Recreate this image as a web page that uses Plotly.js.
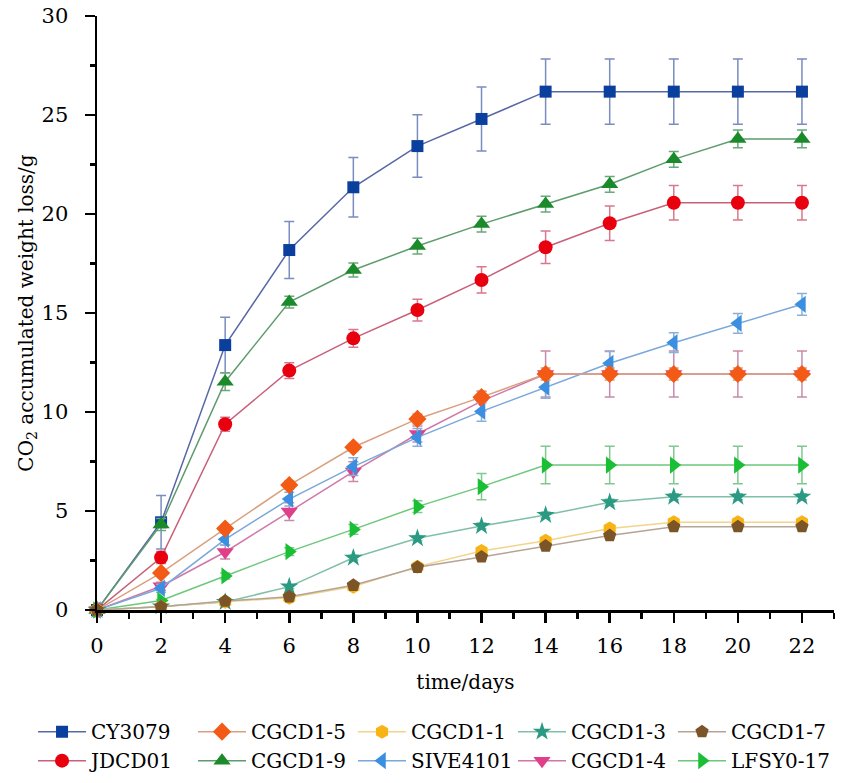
<!DOCTYPE html>
<html>
<head>
<meta charset="utf-8">
<script src="https://cdn.plot.ly/plotly-3.0.1.min.js"></script>
<style>html,body{margin:0;padding:0;background:#fff;}#chart{width:851px;height:783px;}</style>
</head>
<body>
<div id="chart"></div>
<script>
// time points (days)
const days = [0, 2, 4, 6, 8, 10, 12, 14, 16, 18, 20, 22];

// series values (CO2 accumulated weight loss, g)
const CY3079   = [0, 4.43, 13.38, 18.18, 21.35, 23.43, 24.80, 26.18, 26.18, 26.18, 26.18, 26.18];
const CY3079_e = [0, 1.35, 1.40, 1.44, 1.50, 1.58, 1.62, 1.65, 1.65, 1.65, 1.65, 1.65];

const CGCD1_9   = [0, 4.32, 11.53, 15.55, 17.17, 18.38, 19.49, 20.50, 21.50, 22.76, 23.79, 23.79];
const CGCD1_9_e = [0, 0.30, 0.45, 0.30, 0.35, 0.40, 0.40, 0.40, 0.40, 0.40, 0.45, 0.45];

const JDCD01   = [0, 2.65, 9.38, 12.09, 13.72, 15.15, 16.67, 18.32, 19.53, 20.57, 20.57, 20.57];
const JDCD01_e = [0, 0.30, 0.35, 0.40, 0.45, 0.55, 0.66, 0.82, 0.87, 0.87, 0.87, 0.87];

const CGCD1_5   = [0, 1.87, 4.11, 6.31, 8.22, 9.65, 10.75, 11.92, 11.92, 11.92, 11.92, 11.92];
const CGCD1_5_e = [0, 0.15, 0.20, 0.20, 0.20, 0.25, 0.30, 0.30, 0.30, 0.30, 0.30, 0.30];

const CGCD1_4   = [0, 1.20, 2.93, 4.97, 6.99, 8.89, 10.55, 11.92, 11.92, 11.92, 11.92, 11.92];
const CGCD1_4_e = [0, 0.20, 0.35, 0.45, 0.50, 0.40, 0.50, 1.16, 1.16, 1.16, 1.16, 1.16];

const SIVE4101   = [0, 1.10, 3.57, 5.60, 7.24, 8.72, 10.03, 11.25, 12.46, 13.50, 14.48, 15.44];
const SIVE4101_e = [0, 0.20, 0.30, 0.35, 0.45, 0.45, 0.50, 0.55, 0.60, 0.50, 0.50, 0.55];

const LFSY0_17   = [0, 0.48, 1.72, 2.95, 4.07, 5.22, 6.23, 7.32, 7.32, 7.32, 7.32, 7.32];
const LFSY0_17_e = [0, 0.05, 0.15, 0.20, 0.25, 0.30, 0.66, 0.95, 0.95, 0.95, 0.95, 0.95];

const CGCD1_3   = [0, 0.18, 0.40, 1.18, 2.64, 3.62, 4.24, 4.80, 5.44, 5.72, 5.72, 5.72];
const CGCD1_3_e = [0, 0.05, 0.08, 0.10, 0.12, 0.12, 0.15, 0.15, 0.15, 0.15, 0.15, 0.15];

const CGCD1_1   = [0, 0.17, 0.42, 0.62, 1.18, 2.19, 2.98, 3.50, 4.12, 4.43, 4.43, 4.43];
const CGCD1_1_e = [0, 0.05, 0.08, 0.10, 0.10, 0.12, 0.12, 0.12, 0.12, 0.12, 0.12, 0.12];

const CGCD1_7   = [0, 0.17, 0.45, 0.67, 1.25, 2.16, 2.68, 3.23, 3.76, 4.21, 4.21, 4.21];
const CGCD1_7_e = [0, 0.05, 0.08, 0.10, 0.10, 0.12, 0.12, 0.12, 0.12, 0.12, 0.12, 0.12];

function series(name, y, err, symbol, size, mcol, lcol, ecol, rank) {
  return {
    type: 'scatter', mode: 'lines+markers', name: name, x: days, y: y,
    legendrank: rank, cliponaxis: false,
    line: {color: lcol, width: 1.5},
    marker: {symbol: symbol, size: size, color: mcol, line: {width: 0}},
    error_y: {type: 'data', array: err, visible: true, color: ecol, thickness: 1.5, width: 5}
  };
}

const data = [
  series('CY3079',   CY3079,   CY3079_e,   'square',         12, '#0B3F9E', '#5867A6', '#7A8CC0', 1),
  series('CGCD1-9',  CGCD1_9,  CGCD1_9_e,  'triangle-up',    15, '#1A8A2A', '#5E9C6C', '#6AA878', 7),
  series('JDCD01',   JDCD01,   JDCD01_e,   'circle',         14, '#E8000F', '#C8607A', '#D8788E', 6),
  series('CGCD1-4',  CGCD1_4,  CGCD1_4_e,  'triangle-down',  15, '#E0408A', '#D078A8', '#C88AAA', 9),
  series('SIVE4101', SIVE4101, SIVE4101_e, 'triangle-left',  15, '#3A8FE0', '#7AA8DA', '#8AB0D8', 8),
  series('CGCD1-5',  CGCD1_5,  CGCD1_5_e,  'diamond',        14, '#F25A16', '#D9A080', '#D9A080', 2),
  series('LFSY0-17', LFSY0_17, LFSY0_17_e, 'triangle-right', 15, '#1BBF35', '#6CC87A', '#80C890', 10),
  series('CGCD1-3',  CGCD1_3,  CGCD1_3_e,  'star',           14, '#2A9A82', '#80BFA8', '#80BFA8', 4),
  series('CGCD1-1',  CGCD1_1,  CGCD1_1_e,  'hexagon',        14, '#F8B414', '#F2D48A', '#E8C060', 3),
  series('CGCD1-7',  CGCD1_7,  CGCD1_7_e,  'pentagon',       14, '#7B5427', '#B4A496', '#E0B040', 5)
];

const FONT = 'DejaVu Serif';

const layout = {
  width: 851, height: 783,
  margin: {l: 97, r: 17, t: 16, b: 173, autoexpand: false},
  paper_bgcolor: '#fff', plot_bgcolor: '#fff',
  font: {family: FONT, size: 20, color: '#000'},
  showlegend: true,
  legend: {
    orientation: 'h', x: -0.0868, xanchor: 'left',
    y: -0.172, yanchor: 'top',
    font: {family: FONT, size: 20, color: '#000'},
    itemwidth: 48, entrywidth: 97, tracegroupgap: 0, bgcolor: 'rgba(0,0,0,0)'
  },
  xaxis: {
    range: [0, 23], showgrid: false, zeroline: false,
    showline: true, linecolor: '#000', linewidth: 2.5,
    tickmode: 'linear', tick0: 0, dtick: 2,
    ticks: 'outside', ticklen: 10, tickwidth: 2.5, tickcolor: '#000',
    ticklabelstandoff: 5,
    minor: {dtick: 1, ticks: 'outside', ticklen: 6, tickwidth: 2.5, tickcolor: '#000'},
    tickfont: {family: FONT, size: 21},
    title: {text: 'time/days', font: {family: FONT, size: 20}, standoff: 19}
  },
  yaxis: {
    range: [0, 30], showgrid: false, zeroline: false,
    showline: true, linecolor: '#000', linewidth: 2.5,
    tickmode: 'linear', tick0: 0, dtick: 5,
    ticks: 'outside', ticklen: 10, tickwidth: 2.5, tickcolor: '#000',
    ticklabelstandoff: 12,
    minor: {dtick: 2.5, ticks: 'outside', ticklen: 5, tickwidth: 2.5, tickcolor: '#000'},
    tickfont: {family: FONT, size: 21},
    title: {text: 'CO<sub>2</sub> accumulated weight loss/g', font: {family: FONT, size: 20}, standoff: 3}
  }
};

Plotly.newPlot('chart', data, layout, {displayModeBar: false, staticPlot: true});
</script>
</body>
</html>
